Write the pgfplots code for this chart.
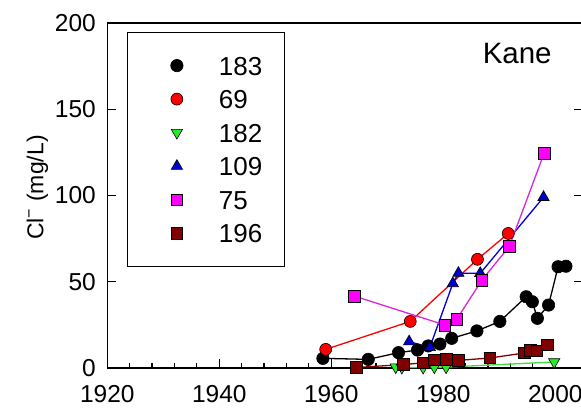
\documentclass[border=0pt]{standalone}
\usepackage{pgfplots}
\pgfplotsset{compat=1.18}
\usepackage{fontspec}
\setmainfont{Liberation Sans}
\definecolor{cred}{RGB}{255,0,0}
\definecolor{cgreen}{RGB}{40,235,40}
\definecolor{cgreenl}{RGB}{60,220,60}
\definecolor{cblue}{RGB}{0,0,210}
\definecolor{cmag}{RGB}{255,0,255}
\definecolor{cmagl}{RGB}{215,40,215}
\definecolor{cdred}{RGB}{128,0,0}

\pgfplotstableread{
x y
1958.5 5.6
1966.6 5.0
1972.0 8.9
1975.4 10.4
1977.3 12.8
1979.4 13.9
1981.5 17.2
1986.0 21.5
1990.1 27.0
1994.8 41.3
1995.9 38.4
1996.8 28.8
1998.8 36.5
2000.5 58.7
2001.9 59.0
}\tA
\pgfplotstableread{
x y
1959.0 10.8
1974.1 27.0
1986.1 63.0
1991.6 78.0
}\tB
\pgfplotstableread{
x y
1971.5 0.5
1972.6 0.3
1976.4 0.3
1978.4 0.5
1980.5 0.5
1999.8 3.5
}\tC
\pgfplotstableread{
x y
1973.9 15.3
1977.6 12.0
1981.7 49.0
1982.7 55.0
1986.6 54.9
1997.9 99.0
}\tD
\pgfplotstableread{
x y
1964.1 41.7
1980.3 24.9
1982.4 28.2
1986.9 51.0
1991.8 70.5
1998.0 124.5
}\tE
\pgfplotstableread{
x y
1964.5 0.3
1972.9 2.0
1976.4 3.0
1978.4 4.8
1980.5 5.0
1982.7 4.4
1988.3 5.8
1994.5 8.7
1995.5 10.4
1996.7 9.9
1998.6 13.5
}\tF

\begin{document}
\begin{tikzpicture}
\begin{axis}[
  scale only axis, width=476bp, height=345bp,
  xmin=1920, xmax=2005, ymin=0, ymax=200,
  xtick={1920,1940,1960,1980,2000}, minor x tick num=4,
  ytick={0,50,100,150,200},
  xtick pos=left, ytick pos=both,
  tick align=inside,
  major tick length=9bp, minor tick length=5bp,
  every tick/.style={black, line width=1.2bp},
  axis line style={line width=1.5bp},
  /pgf/number format/1000 sep={},
  /pgf/number format/assume math mode=true,
  ticklabel style={font=\fontsize{24.5bp}{28bp}\selectfont},
  xticklabel style={yshift=-14bp},
  yticklabel style={xshift=-8bp},
  ylabel={Cl\textsuperscript{−} (mg/L)},
  ylabel style={font=\fontsize{23bp}{27bp}\selectfont, at={(axis description cs:-0.1466,0.523)}, anchor=center},
  clip=false,
  legend cell align=left,
  legend image code/.code={\path[draw=none,fill=none] (-27bp,0) -- (8bp,0); \draw[#1, only marks] plot coordinates {(0bp,0bp)};},
  legend style={at={(axis description cs:0,1)}, anchor=north west, xshift=20bp, yshift=-9bp,
    draw=black, line width=1.2bp, fill=white,
    font=\fontsize{26bp}{30bp}\selectfont,
    inner xsep=22bp, inner ysep=23.5bp,
    row sep=14.5bp, column sep=34bp,
    nodes={inner sep=0pt, text height=19bp, text depth=0bp}},
]
\addplot[black, line width=1.3bp, mark=*, mark size=6.2bp, mark options={fill=black, draw=black, line width=0.6bp, solid}] table {\tA};
\addlegendentry{183}
\addplot[cred, line width=1.3bp, mark=*, mark size=6bp, mark options={fill=cred, draw=black, line width=0.6bp, solid}] table {\tB};
\addlegendentry{69}
\addplot[cgreenl, line width=1.3bp, mark=triangle*, mark size=6.5bp, mark options={fill=cgreen, draw=black, line width=0.6bp, solid, rotate=180}] table {\tC};
\addlegendentry{182}
\addplot[cblue, line width=1.3bp, mark=triangle*, mark size=6.5bp, mark options={fill=cblue, draw=black, line width=0.6bp, solid}] table {\tD};
\addlegendentry{109}
\addplot[cmagl, line width=1.3bp, mark=square*, mark size=5.8bp, mark options={fill=cmag, draw=black, line width=0.6bp, solid}] table {\tE};
\addlegendentry{75}
\addplot[cdred, line width=1.3bp, mark=square*, mark size=5.8bp, mark options={fill=cdred, draw=black, line width=0.6bp, solid}] table {\tF};
\addlegendentry{196}
\node[font=\fontsize{29.5bp}{34bp}\selectfont] at (axis cs:1993.2,182.6) {Kane};
\end{axis}
\pgfresetboundingbox
\path[use as bounding box] ([shift={(-107.3bp,-41bp)}]current axis.south west) rectangle ([shift={(473.7bp,368bp)}]current axis.south west);
\end{tikzpicture}
\end{document}
